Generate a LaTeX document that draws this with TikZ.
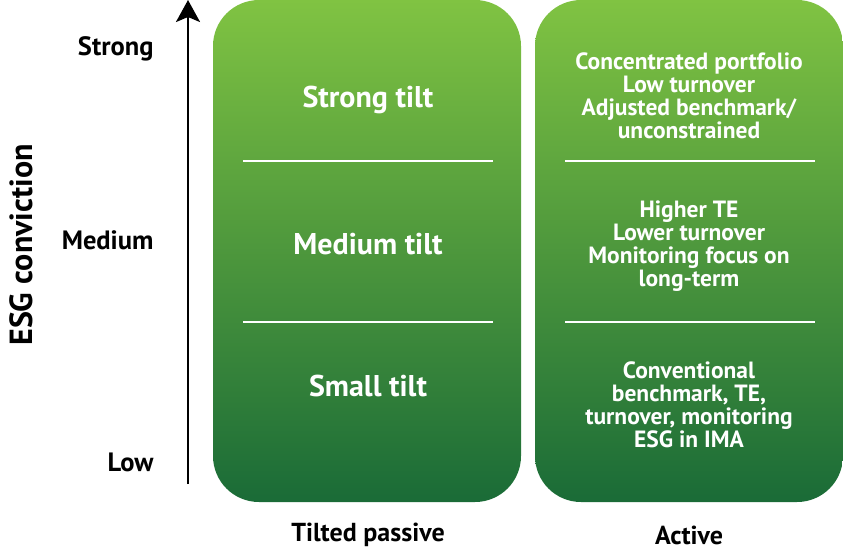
\documentclass[tikz,border=0pt]{standalone}
\usepackage{fontspec}
\setmainfont{PT Sans}
\usepackage{xcolor}
\usetikzlibrary{arrows.meta,positioning}

\definecolor{greentop}{HTML}{80C342}
\definecolor{greenbot}{HTML}{1A6B37}

\begin{document}
\begin{tikzpicture}[
    x=1pt, y=-1pt,
    panel/.style={rounded corners=46pt, minimum width=308pt,
                  minimum height=502pt, top color=greentop,
                  bottom color=greenbot, inner sep=0pt},
    tilt/.style={font=\fontsize{30}{34}\selectfont\bfseries,
                 text=white, align=center},
    detail/.style={font=\fontsize{23.5}{23}\selectfont\bfseries,
                   text=white, align=center},
    level/.style={font=\fontsize{26.5}{30}\selectfont\bfseries,
                  anchor=east},
    caption/.style={font=\fontsize{26}{30}\selectfont\bfseries},
    sep/.style={white, line width=1.6pt},
    axis/.style={-{Stealth[length=22pt, width=24pt, inset=5pt]},
                 line width=2.4pt}
]
\useasboundingbox (0,0) rectangle (843,550);

% ── Panels ──
\node[panel] (passive) at (367,251) {};
\node[panel] (active) at (689,251) {};

% ── Separators ──
\coordinate (pa1) at (243,161); \coordinate (pb1) at (493,161);
\coordinate (pa2) at (243,322); \coordinate (pb2) at (493,322);
\coordinate (aa1) at (565,161); \coordinate (ab1) at (815,161);
\coordinate (aa2) at (565,322); \coordinate (ab2) at (815,322);
\draw[sep] (pa1) -- (pb1);
\draw[sep] (pa2) -- (pb2);
\draw[sep] (aa1) -- (ab1);
\draw[sep] (aa2) -- (ab2);

% ── Tilted passive ──
\node[tilt] (strongtilt) at (368,100) {Strong tilt};
\node[tilt] (mediumtilt) at (368,244) {Medium tilt};
\node[tilt] (smalltilt) at (368,386) {Small tilt};

% ── Active ──
\node[detail] (strongact) at (689,96)
    {Concentrated portfolio\\Low turnover\\Adjusted benchmark/\\unconstrained};
\node[detail] (mediumact) at (689,246)
    {Higher TE\\Lower turnover\\Monitoring focus on\\long-term};
\node[detail] (smallact) at (689,405)
    {Conventional\\benchmark, TE,\\turnover, monitoring\\ESG in IMA};

% ── Axis ──
\coordinate (axisbot) at (188,484);
\coordinate (axistop) at (188,0);
\draw[axis] (axisbot) -- (axistop);
\node[level] (strong) at (157,49) {Strong};
\node[level] (medium) at (157,240) {Medium};
\node[level] (low) at (157,462) {Low};
\node[caption, font=\fontsize{32}{36}\selectfont\bfseries, rotate=90]
    (conviction) at (21,245) {ESG conviction};

% ── Captions ──
\node[caption] (passivelbl) at (368,535) {Tilted passive};
\node[caption] (activelbl) at (689,535) {Active};

\end{tikzpicture}
\end{document}
